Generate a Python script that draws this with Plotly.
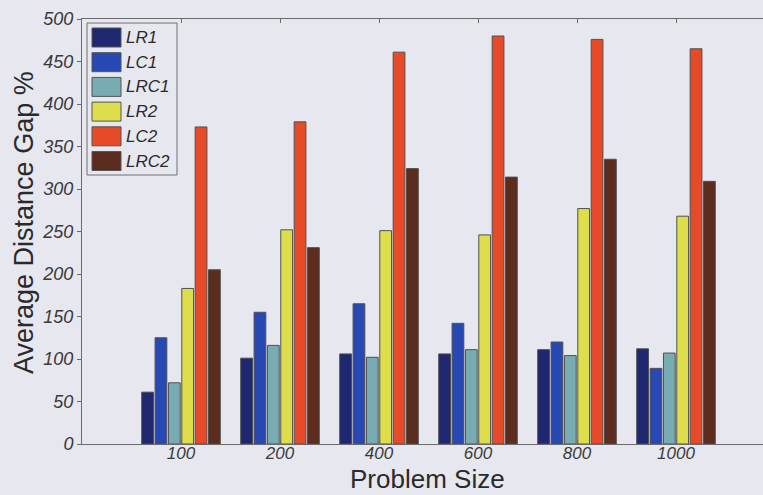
import plotly.graph_objects as go

# Problem sizes (x categories) and average distance gap (%) per method
sizes = ["100", "200", "400", "600", "800", "1000"]
series_names = ["LR1", "LC1", "LRC1", "LR2", "LC2", "LRC2"]
lr1 = [61, 101, 106, 106, 111, 112]
lc1 = [125, 155, 165, 142, 120, 89]
lrc1 = [72, 116, 102, 111, 104, 107]
lr2 = [183, 252, 251, 246, 277, 268]
lc2 = [373, 379, 461, 480, 476, 465]
lrc2 = [205, 231, 324, 314, 335, 309]
series_values = [lr1, lc1, lrc1, lr2, lc2, lrc2]
colors = ["#1e276f", "#2848b4", "#78abb2", "#dede4c", "#e64a28", "#5c2c1e"]
y_ticks = [0, 50, 100, 150, 200, 250, 300, 350, 400, 450, 500]

BG = "#e7e7ef"
AXIS = "#6a6a6a"
TXT = "#3a3a3a"
FONT = "Liberation Sans, Arial, Helvetica, sans-serif"

W, H = 763, 495
ML, MT, MB = 82, 19, 51
PW, PH = W - ML, H - MT - MB

xpos = list(range(1, len(sizes) + 1))

fig = go.Figure()
for name, vals, col in zip(series_names, series_values, colors):
    fig.add_trace(go.Bar(
        x=xpos, y=vals, name=name,
        marker=dict(color=col, line=dict(color="#505050", width=1)),
        showlegend=False,
    ))


def px_x(p):
    return (p - ML) / PW


def px_y(p):
    return (H - MB - p) / PH


# Legend box with large colour swatches
shapes = [dict(type="rect", xref="paper", yref="paper",
               x0=px_x(87), x1=px_x(177), y0=px_y(175), y1=px_y(23),
               line=dict(color="#707070", width=1), fillcolor=BG, layer="above")]
annotations = []
for i, (name, col) in enumerate(zip(series_names, colors)):
    cy = 37.5 + i * 24.7
    shapes.append(dict(type="rect", xref="paper", yref="paper",
                       x0=px_x(92), x1=px_x(121), y0=px_y(cy + 9.5), y1=px_y(cy - 9.5),
                       line=dict(color="#555555", width=1), fillcolor=col, layer="above"))
    annotations.append(dict(xref="paper", yref="paper", x=px_x(124), y=px_y(cy),
                            text=name, showarrow=False, xanchor="left", yanchor="middle",
                            font=dict(family=FONT, size=17, color="#2a2a2a", style="italic")))

# Axis titles (kept fully inside the figure area)
annotations.append(dict(xref="paper", yref="paper", x=px_x(428), y=px_y(495),
                        text="Problem Size", showarrow=False,
                        xanchor="center", yanchor="bottom", borderpad=0,
                        font=dict(family=FONT, size=26, color="#2a2a2a")))
annotations.append(dict(xref="paper", yref="paper", x=px_x(24), y=px_y(223),
                        text="Average Distance Gap %", showarrow=False, textangle=-90,
                        xanchor="center", yanchor="middle",
                        font=dict(family=FONT, size=27, color="#2a2a2a")))

fig.update_layout(
    width=W, height=H,
    margin=dict(l=ML, r=0, t=MT, b=MB, pad=0),
    paper_bgcolor=BG, plot_bgcolor=BG,
    barmode="group", bargap=0.19, bargroupgap=0.12,
    shapes=shapes, annotations=annotations,
    xaxis=dict(
        range=[0, PW / 99.0], tickvals=xpos, ticktext=sizes,
        showline=True, linecolor=AXIS, linewidth=1, mirror="ticks",
        ticks="inside", ticklen=4, tickcolor=AXIS, ticklabelstandoff=-6,
        showgrid=False, zeroline=False,
        tickfont=dict(family=FONT, size=17, color=TXT, style="italic"),
    ),
    yaxis=dict(
        range=[0, 500], tickvals=y_ticks,
        showline=True, linecolor=AXIS, linewidth=1, mirror=False,
        ticks="outside", ticklen=4, tickcolor=AXIS,
        showgrid=False, zeroline=False,
        tickfont=dict(family=FONT, size=18, color=TXT, style="italic"),
    ),
)

fig.write_html("out.html", config={"staticPlot": True})
